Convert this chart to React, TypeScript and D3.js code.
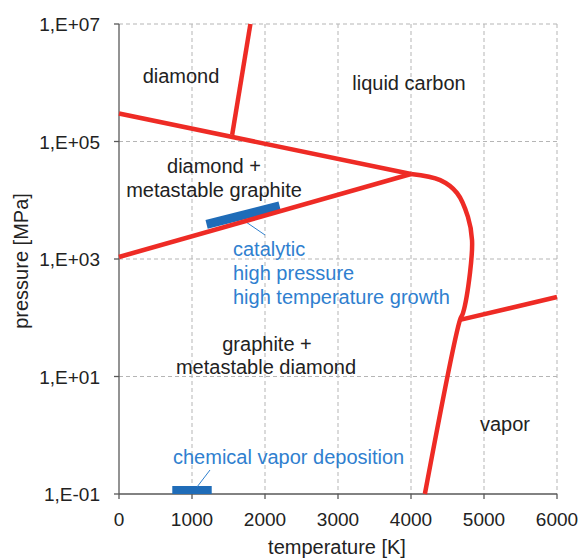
import React from "react";
import { scaleLinear, scaleLog, line, curveCatmullRom, curveLinear } from "d3";

// phase boundaries: [temperature K, pressure MPa]
const diamondLiquid: [number, number][] = [
  [1550, 1.3e5],
  [1800, 1e7],
];
const upperBoundary: [number, number][] = [
  [0, 3.0e5],
  [4000, 2.8e4],
];
const graphiteDiamond: [number, number][] = [
  [0, 1.08e3],
  [4000, 2.8e4],
];
const meltingCurve: [number, number][] = [
  [4000, 2.8e4],
  [4400, 2.2e4],
  [4630, 1.33e4],
  [4780, 5.2e3],
  [4836, 2.1e3],
  [4808, 580],
  [4712, 120],
  [4671, 92],
  [4190, 0.1],
];
const vaporLine: [number, number][] = [
  [4671, 92],
  [6000, 225],
];
const hphtBar: [number, number][] = [
  [1200, 3.9e3],
  [2200, 8.0e3],
];
const cvdBar: [number, number][] = [
  [730, 0.1],
  [1270, 0.1],
];

const xTicks = [0, 1000, 2000, 3000, 4000, 5000, 6000];
const yTicks = [1e-1, 1e1, 1e3, 1e5, 1e7];
const yTickLabels = ["1,E-01", "1,E+01", "1,E+03", "1,E+05", "1,E+07"];

const W = 579;
const H = 559;
const left = 119;
const right = 557;
const top = 24;
const bottom = 494;

const RED = "#ee2b25";
const BLUE = "#1f6cb8";
const BLUE_TEXT = "#2f80cf";
const FONT = "'Liberation Sans', Arial, sans-serif";

function App() {
  const x = scaleLinear().domain([0, 6000]).range([left, right]);
  const y = scaleLog().domain([0.1, 1e7]).range([bottom, top]);

  const straight = line<[number, number]>()
    .x((d) => x(d[0]))
    .y((d) => y(d[1]))
    .curve(curveLinear);
  const smooth = line<[number, number]>()
    .x((d) => x(d[0]))
    .y((d) => y(d[1]))
    .curve(curveCatmullRom.alpha(0.5));

  const tickTxt = { fontFamily: FONT, fontSize: 19 } as const;
  const txt = { fontFamily: FONT, fontSize: 20 } as const;

  return (
    <svg width={W} height={H} style={{ position: "absolute", left: 0, top: 0 }}>
      <rect width={W} height={H} fill="#fff" />
      {/* grid */}
      {xTicks.slice(1).map((t) => (
        <line key={"gx" + t} x1={x(t)} x2={x(t)} y1={top} y2={bottom}
          stroke="#b5b5b5" strokeDasharray="4,3" strokeWidth={1} />
      ))}
      {yTicks.slice(1).map((t) => (
        <line key={"gy" + t} x1={left} x2={right} y1={y(t)} y2={y(t)}
          stroke="#b5b5b5" strokeDasharray="4,3" strokeWidth={1} />
      ))}
      {/* axes */}
      <line x1={left} x2={left} y1={top} y2={bottom} stroke="#595959" strokeWidth={1.3} />
      <line x1={left} x2={right} y1={bottom} y2={bottom} stroke="#595959" strokeWidth={1.3} />
      {xTicks.map((t) => (
        <g key={"xt" + t}>
          <line x1={x(t)} x2={x(t)} y1={bottom} y2={bottom + 5} stroke="#595959" strokeWidth={1.3} />
          <text x={x(t)} y={bottom + 32} textAnchor="middle" fill="#222" {...tickTxt}>{t}</text>
        </g>
      ))}
      {yTicks.map((t, i) => (
        <g key={"yt" + t}>
          <line x1={left - 5} x2={left} y1={y(t)} y2={y(t)} stroke="#595959" strokeWidth={1.3} />
          <text x={left - 19} y={y(t) + 7} textAnchor="end" fill="#222" {...tickTxt}>{yTickLabels[i]}</text>
        </g>
      ))}
      <text x={337} y={554} textAnchor="middle" fill="#222" {...txt}>temperature [K]</text>
      <text transform={`translate(28,261) rotate(-90)`} textAnchor="middle" fill="#222" {...txt}>pressure [MPa]</text>

      {/* process regions */}
      <path d={straight(hphtBar) || ""} stroke={BLUE} strokeWidth={9} fill="none" />
      <line x1={246} y1={222} x2={265} y2={235} stroke={BLUE_TEXT} strokeWidth={1} />
      <rect x={x(cvdBar[0][0])} y={y(cvdBar[0][1]) - 8} width={x(cvdBar[1][0]) - x(cvdBar[0][0])} height={8} fill={BLUE} />
      <line x1={197} y1={487} x2={210} y2={470} stroke={BLUE_TEXT} strokeWidth={1} />

      {/* phase boundaries */}
      <g stroke={RED} strokeWidth={4.5} fill="none" strokeLinejoin="round">
        <path d={straight(diamondLiquid) || ""} />
        <path d={straight(upperBoundary) || ""} />
        <path d={straight(graphiteDiamond) || ""} />
        <path d={smooth(meltingCurve) || ""} />
        <path d={straight(vaporLine) || ""} />
      </g>

      {/* labels */}
      <g fill="#222" {...txt}>
        <text x={181} y={83} textAnchor="middle">diamond</text>
        <text x={409} y={90} textAnchor="middle">liquid carbon</text>
        <text x={214} y={173} textAnchor="middle">diamond +</text>
        <text x={214} y={197} textAnchor="middle">metastable graphite</text>
        <text x={267} y={351} textAnchor="middle">graphite +</text>
        <text x={266} y={374} textAnchor="middle">metastable diamond</text>
        <text x={505} y={431} textAnchor="middle">vapor</text>
      </g>
      <g fill={BLUE_TEXT} {...txt}>
        <text x={233} y={256}>catalytic</text>
        <text x={233} y={280}>high pressure</text>
        <text x={233} y={304}>high temperature growth</text>
        <text x={173} y={464}>chemical vapor deposition</text>
      </g>
    </svg>
  );
}

export default App;
